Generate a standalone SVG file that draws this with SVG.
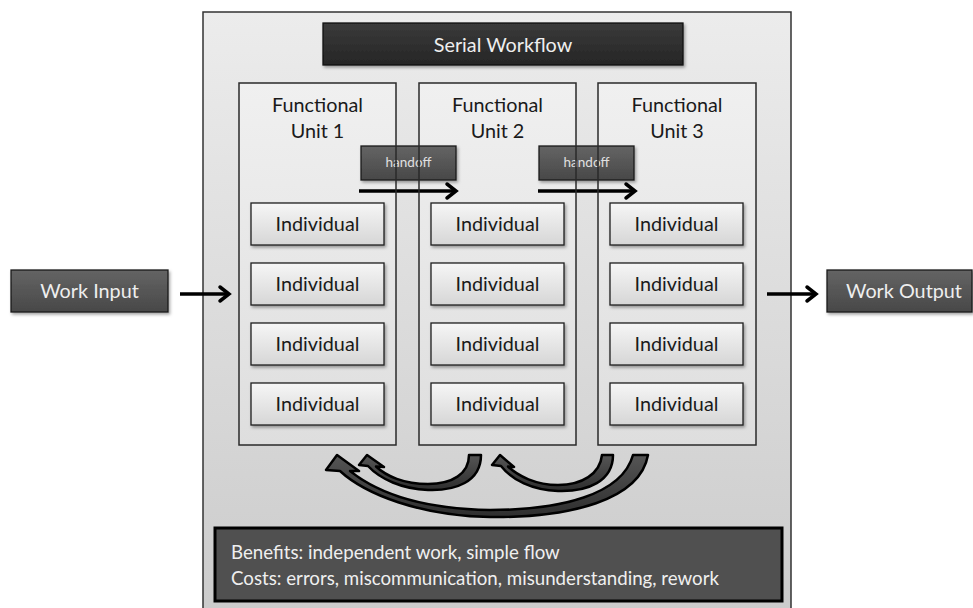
<svg xmlns="http://www.w3.org/2000/svg" width="973" height="608" viewBox="0 0 973 608">
<defs>
<linearGradient id="gBg" x1="0" y1="0" x2="0" y2="1"><stop offset="0" stop-color="#ececec"/><stop offset="1" stop-color="#cbcbcb"/></linearGradient>
<linearGradient id="gUnit" x1="0" y1="0" x2="0" y2="1"><stop offset="0" stop-color="#f0f0f0"/><stop offset="1" stop-color="#dedede"/></linearGradient>
<linearGradient id="gInd" x1="0" y1="0" x2="0" y2="1"><stop offset="0" stop-color="#f6f6f6"/><stop offset="1" stop-color="#d6d6d6"/></linearGradient>
<linearGradient id="gDark" x1="0" y1="0" x2="0" y2="1"><stop offset="0" stop-color="#646464"/><stop offset="1" stop-color="#484848"/></linearGradient>
<linearGradient id="gTitle" x1="0" y1="0" x2="0" y2="1"><stop offset="0" stop-color="#3a3a3a"/><stop offset="1" stop-color="#262626"/></linearGradient>
<linearGradient id="gArc" x1="0" y1="0" x2="0" y2="1"><stop offset="0" stop-color="#555"/><stop offset="1" stop-color="#2e2e2e"/></linearGradient>
<filter id="sh" x="-10%" y="-10%" width="130%" height="140%"><feDropShadow dx="1.5" dy="2" stdDeviation="1.5" flood-color="#000" flood-opacity="0.35"/></filter>
<marker id="chev" markerUnits="userSpaceOnUse" markerWidth="20" markerHeight="20" viewBox="0 0 20 20" refX="15" refY="10" orient="auto"><path d="M6 3 L15 10 L6 17" fill="none" stroke="#000" stroke-width="3.5" stroke-linecap="round" stroke-linejoin="miter"/></marker>
<style>
text{font-family:Lato,"Open Sans","Liberation Sans",sans-serif;}
.unit{fill:url(#gUnit);}
.unitb{fill:none;stroke:#2a2a2a;stroke-width:1.5;}
.ind{fill:url(#gInd);stroke:#1e1e1e;stroke-width:1.3;filter:url(#sh);}
.dark{fill:url(#gDark);stroke:#1a1a1a;stroke-width:1.3;filter:url(#sh);}
.t18{font-size:19.8px;fill:#1a1a1a;text-anchor:middle;}
.tw{font-size:19.8px;fill:#eeeeee;text-anchor:middle;}
.ho{font-size:13.5px;fill:#e0e0e0;text-anchor:middle;}
.ln{stroke:#000;stroke-width:3.5;fill:none;marker-end:url(#chev);}
.arc{fill:url(#gArc);stroke:#000;stroke-width:2.5;stroke-linejoin:round;}
.sum{font-size:18.7px;fill:#efefef;}
</style>
</defs>
<rect x="0" y="0" width="973" height="608" fill="#ffffff"/>
<g id="container">
<rect x="203" y="12" width="588" height="610" fill="url(#gBg)" stroke="#333" stroke-width="1.5"/>
</g>
<g id="title">
<rect x="323" y="23" width="360" height="42" fill="url(#gTitle)" stroke="#111" stroke-width="1.3" filter="url(#sh)"/>
<text class="tw" x="503" y="52">Serial Workflow</text>
</g>
<g id="unit-fills">
<rect class="unit" x="239" y="83" width="157" height="362"/>
<rect class="unit" x="419" y="83" width="157" height="362"/>
<rect class="unit" x="598" y="83" width="158" height="362"/>
</g>
<g id="handoff1">
<rect class="dark" x="361" y="146" width="95" height="34"/>
<text class="ho" x="408.5" y="167">handoff</text>
</g>
<g id="handoff2">
<rect class="dark" x="539" y="146" width="95" height="34"/>
<text class="ho" x="586.5" y="167">handoff</text>
</g>
<g id="connectors">
<line class="ln" x1="359" y1="191" x2="456" y2="191"/>
<line class="ln" x1="538" y1="191" x2="635" y2="191"/>
<line class="ln" x1="180" y1="294" x2="229" y2="294"/>
<line class="ln" x1="767" y1="294" x2="816" y2="294"/>
<path class="arc" d="M 648 455 C 640 500 570 518 490 517 C 420 516 365 494 340 471 L 326 470 L 337 455 L 359 471 L 350 471 C 380 495 425 509 490 510 C 560 510 622 495 633 455 Z"/>
<path class="arc" d="M 481 455 C 481 482 455 491 428 490 C 402 489 380 479 368 466 L 359 465 L 367 455 L 384 467 L 376 466.5 C 386 476 404 484 428 484 C 452 484 469 474 469 455 Z"/>
<path class="arc" d="M 613 455 C 613 481 588 492 558 491 C 532 490 512 480 501 466 L 492 465 L 500 455 L 514 467 L 508 466.5 C 518 476 536 485 558 485 C 582 485 600 474 602 455 Z"/>
</g>
<g id="unit1">
<rect class="unitb" x="239" y="83" width="157" height="362"/>
<text class="t18" x="317.5" y="112">Functional</text>
<text class="t18" x="317.5" y="138">Unit 1</text>
</g>
<g id="unit2">
<rect class="unitb" x="419" y="83" width="157" height="362"/>
<text class="t18" x="497.5" y="112">Functional</text>
<text class="t18" x="497.5" y="138">Unit 2</text>
</g>
<g id="unit3">
<rect class="unitb" x="598" y="83" width="158" height="362"/>
<text class="t18" x="677" y="112">Functional</text>
<text class="t18" x="677" y="138">Unit 3</text>
</g>
<g id="individuals-u1">
<rect class="ind" x="251" y="203" width="133" height="42"/><text class="t18" x="317.5" y="231">Individual</text>
<rect class="ind" x="251" y="263" width="133" height="42"/><text class="t18" x="317.5" y="291">Individual</text>
<rect class="ind" x="251" y="323" width="133" height="42"/><text class="t18" x="317.5" y="351">Individual</text>
<rect class="ind" x="251" y="383" width="133" height="42"/><text class="t18" x="317.5" y="411">Individual</text>
</g>
<g id="individuals-u2">
<rect class="ind" x="431" y="203" width="133" height="42"/><text class="t18" x="497.5" y="231">Individual</text>
<rect class="ind" x="431" y="263" width="133" height="42"/><text class="t18" x="497.5" y="291">Individual</text>
<rect class="ind" x="431" y="323" width="133" height="42"/><text class="t18" x="497.5" y="351">Individual</text>
<rect class="ind" x="431" y="383" width="133" height="42"/><text class="t18" x="497.5" y="411">Individual</text>
</g>
<g id="individuals-u3">
<rect class="ind" x="610" y="203" width="133" height="42"/><text class="t18" x="676.5" y="231">Individual</text>
<rect class="ind" x="610" y="263" width="133" height="42"/><text class="t18" x="676.5" y="291">Individual</text>
<rect class="ind" x="610" y="323" width="133" height="42"/><text class="t18" x="676.5" y="351">Individual</text>
<rect class="ind" x="610" y="383" width="133" height="42"/><text class="t18" x="676.5" y="411">Individual</text>
</g>
<g id="work-input">
<rect class="dark" x="11" y="270" width="157" height="42"/>
<text class="tw" x="89.5" y="298">Work Input</text>
</g>
<g id="work-output">
<rect class="dark" x="827" y="270" width="145" height="42"/>
<text class="tw" x="904" y="298">Work Output</text>
</g>
<g id="summary">
<rect x="215" y="528" width="567" height="73" fill="#505050" stroke="#000" stroke-width="3"/>
<text class="sum" x="231" y="559">Benefits: independent work, simple flow</text>
<text class="sum" x="231" y="585">Costs: errors, miscommunication, misunderstanding, rework</text>
</g>
</svg>
